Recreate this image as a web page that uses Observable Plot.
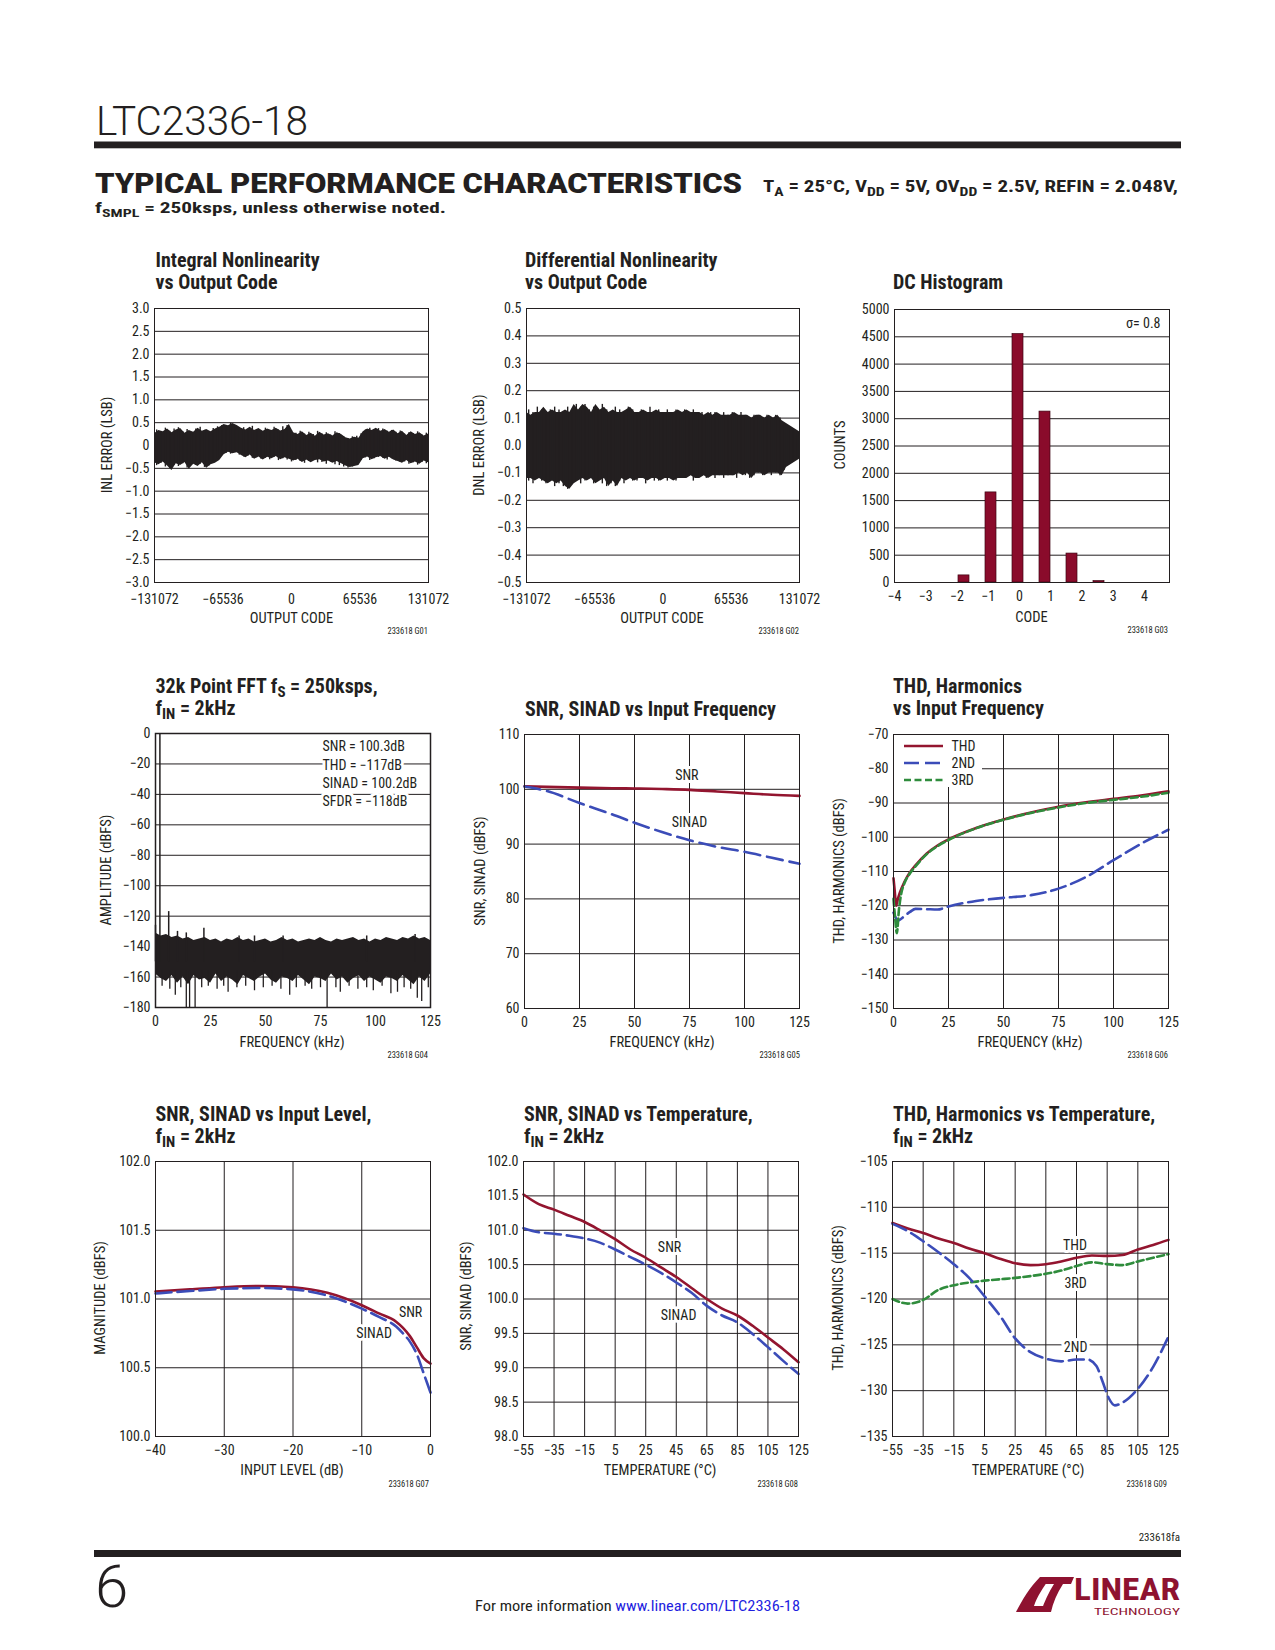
<!DOCTYPE html>
<html>
<head>
<meta charset="utf-8">
<script src="https://cdn.jsdelivr.net/npm/d3@7"></script>
<script src="https://cdn.jsdelivr.net/npm/@observablehq/plot@0.6"></script>
<style>
  html,body{margin:0;padding:0;background:#fff;}
  #page{position:relative;width:1275px;height:1650px;overflow:hidden;background:#fff;}
</style>
</head>
<body>
<div id="page"></div>
<script>
// ===================== DATA =====================
// G01 / G02 : INL & DNL vs output code (envelope of the dense trace + its spikes)
const codeTicks = [-131072, -65536, 0, 65536, 131072];
const inlTicks = [-3, -2.5, -2, -1.5, -1, -0.5, 0, 0.5, 1, 1.5, 2, 2.5, 3];
const inlHi = [0.26,0.33,0.30,0.36,0.28,0.34,0.37,0.27,0.33,0.29,0.38,0.31,0.35,0.30,0.36,0.40,
  0.46,0.43,0.48,0.44,
  0.38,0.34,0.40,0.33,0.37,0.31,0.36,0.33,0.38,0.32,0.35,
  0.46,
  0.28,0.24,0.30,0.22,0.27,0.20,0.29,0.23,0.26,0.21,0.28,0.24,
  0.17,0.14,0.18,0.16,
  0.30,0.36,0.33,0.38,0.31,0.35,0.29,0.34,
  0.26,0.31,0.22,0.30,0.24,0.28,0.21,0.25];
const inlLo = [-0.38,-0.42,-0.36,-0.45,-0.55,-0.40,-0.44,-0.37,-0.52,-0.41,-0.46,-0.38,-0.50,-0.42,-0.39,-0.33,
  -0.20,-0.15,-0.18,-0.16,
  -0.22,-0.27,-0.21,-0.30,-0.25,-0.32,-0.26,-0.29,-0.24,-0.31,-0.27,
  -0.30,
  -0.34,-0.30,-0.37,-0.32,-0.38,-0.33,-0.31,-0.36,-0.34,-0.39,-0.35,-0.40,
  -0.45,-0.48,-0.46,-0.44,
  -0.29,-0.25,-0.31,-0.27,-0.24,-0.30,-0.26,-0.32,
  -0.35,-0.39,-0.33,-0.40,-0.36,-0.41,-0.34,-0.38];
const inlSpikeUp = [0.34,0.29,0.38,0.31,0.36,0.39,0.30,0.35,0.27,0.36,0.40,0.33,0.28,0.37,0.41,0.44,
  0.40,0.49,0.42,0.36,
  0.39,0.32,0.42,0.35,0.30,0.38,0.31,0.40,0.34,0.41,0.44,
  0.32,0.27,0.31,0.25,0.29,0.24,0.31,0.25,0.28,0.23,0.30,0.26,0.19,
  0.15,0.19,0.20,0.26,
  0.34,0.38,0.35,0.37,0.36,0.31,0.33,0.29,
  0.32,0.25,0.28,0.26,0.30,0.23,0.27];
const inlSpikeDown = [-0.44,-0.39,-0.47,-0.50,-0.43,-0.46,-0.40,-0.49,-0.44,-0.43,-0.41,-0.48,-0.45,-0.36,-0.30,-0.22,
  -0.17,-0.19,-0.14,-0.21,
  -0.25,-0.23,-0.28,-0.27,-0.30,-0.28,-0.31,-0.26,-0.33,-0.29,-0.32,
  -0.36,-0.33,-0.35,-0.39,-0.35,-0.32,-0.38,-0.37,-0.41,-0.36,-0.42,-0.44,-0.47,
  -0.49,-0.47,-0.42,-0.33,
  -0.27,-0.33,-0.29,-0.26,-0.28,-0.32,-0.29,-0.34,
  -0.37,-0.36,-0.41,-0.38,-0.43,-0.37,-0.40];
const dnlTicks = [-0.5, -0.4, -0.3, -0.2, -0.1, 0, 0.1, 0.2, 0.3, 0.4, 0.5];
const dnlHi = [0.12,0.11,0.12,0.12,0.14,0.12,0.13,0.12,0.12,0.13,0.12,0.15,0.13,0.15,0.14,0.12,
  0.15,0.13,0.14,0.12,0.13,0.12,0.12,0.13,0.14,0.12,0.12,0.13,0.12,0.12,0.13,0.12,
  0.12,0.12,0.12,0.13,0.12,0.13,0.12,0.12,0.12,0.11,0.12,0.11,0.12,0.11,0.11,0.11,
  0.12,0.11,0.11,0.11,0.10,0.11,0.11,0.10,0.11,0.10,0.11,0.09,0.08,0.07,0.06,0.05];
const dnlLo = [-0.12,-0.12,-0.13,-0.12,-0.13,-0.14,-0.13,-0.14,-0.13,-0.15,-0.16,-0.14,-0.13,-0.12,-0.13,-0.12,
  -0.14,-0.13,-0.12,-0.15,-0.13,-0.15,-0.12,-0.13,-0.12,-0.13,-0.12,-0.12,-0.13,-0.12,-0.12,-0.13,
  -0.12,-0.12,-0.13,-0.12,-0.12,-0.12,-0.11,-0.12,-0.12,-0.11,-0.12,-0.11,-0.11,-0.11,-0.11,-0.11,
  -0.11,-0.10,-0.11,-0.10,-0.12,-0.10,-0.10,-0.11,-0.10,-0.10,-0.10,-0.11,-0.08,-0.07,-0.06,-0.05];
const dnlSpikeUp = [0.13,0.12,0.14,0.13,0.12,0.13,0.14,0.13,0.12,0.14,
  0.13,0.15,0.14,0.15,0.13,0.14,0.13,0.15,0.13,0.12,
  0.14,0.13,0.12,0.14,0.13,0.12,0.13,0.12,0.14,0.12,
  0.13,0.12,0.13,0.12,0.13,0.12,0.13,0.12,0.13,0.12,
  0.12,0.11,0.12,0.12,0.11,0.12,0.11,0.12,0.11,0.12,
  0.11,0.10,0.11,0.11,0.10,0.11,0.10,0.11,0.10,0.08,
  0.07,0.06,0.05];
const dnlSpikeDown = [-0.13,-0.14,-0.12,-0.13,-0.14,-0.13,-0.15,-0.14,-0.15,-0.16,
  -0.14,-0.13,-0.14,-0.13,-0.12,-0.14,-0.13,-0.14,-0.15,-0.14,
  -0.15,-0.13,-0.14,-0.12,-0.13,-0.13,-0.12,-0.14,-0.12,-0.13,
  -0.13,-0.12,-0.13,-0.12,-0.13,-0.12,-0.12,-0.11,-0.13,-0.12,
  -0.11,-0.12,-0.11,-0.12,-0.11,-0.12,-0.11,-0.11,-0.12,-0.10,
  -0.11,-0.12,-0.11,-0.10,-0.11,-0.10,-0.11,-0.10,-0.11,-0.09,
  -0.07,-0.06,-0.05];

// G03 : DC histogram
const histCodes = [-4, -3, -2, -1, 0, 1, 2, 3, 4, 5];
const histCounts = [0, 0, 130, 1650, 4550, 3130, 530, 25, 0, 0];
const histTicks = [-4, -3, -2, -1, 0, 1, 2, 3, 4];
const countTicks = [0, 500, 1000, 1500, 2000, 2500, 3000, 3500, 4000, 4500, 5000];

// G04 : 32k point FFT (noise-floor envelope every 2.5kHz, plus tones / dips)
const fftTicks = [-180, -160, -140, -120, -100, -80, -60, -40, -20, 0];
const freqTicks = [0, 25, 50, 75, 100, 125];
const fftHi = [-131,-133,-132,-134,-133,-135,-134,-136,-135,-134,-136,-135,-137,-135,-136,-134,-136,
  -135,-137,-136,-135,-137,-136,-134,-136,-135,-137,-136,-135,-136,-134,-136,-137,-135,
  -136,-135,-134,-136,-135,-137,-135,-136,-134,-135,-136,-134,-135,-133,-135,-134,-136];
const fftLo = [-158,-161,-163,-159,-164,-160,-165,-159,-162,-161,
  -164,-158,-163,-160,-162,-165,-159,-161,-163,-160,
  -158,-162,-164,-160,-161,-163,-159,-162,-165,-160,
  -161,-163,-158,-162,-160,-164,-161,-159,-163,-160,
  -162,-164,-160,-161,-163,-159,-162,-165,-160,-163,-158];
const fftPeakFreq = [0, 2, 6, 10, 14, 22, 38, 45, 58, 96, 118];
const fftPeakLevel = [-126, 0, -117, -130, -131, -128, -133, -133, -133, -133, -132];
const fftDipFreq = [3, 6.5, 9, 11.5, 14, 15.5, 18, 21, 24, 28, 31, 33, 37, 41, 45, 49, 53, 57, 61, 64,
  68, 71, 75, 78, 82, 84, 88, 92, 96, 99, 103, 107, 110, 113, 116, 119, 121, 124];
const fftDipLevel = [-166, -168, -172, -167, -180, -180, -180, -167, -166, -168, -166, -170, -167, -166, -169, -167, -166, -168, -172, -167,
  -166, -168, -167, -180, -167, -170, -166, -168, -167, -169, -166, -171, -170, -167, -168, -174, -176, -167];
const fftStats = ["SNR = 100.3dB", "THD = \u2212117dB", "SINAD = 100.2dB", "SFDR = \u2212118dB"];

// G05 : SNR, SINAD vs input frequency
const snrFreqTicks = [60, 70, 80, 90, 100, 110];
const inFreq = [0, 10, 25, 40, 50, 62.5, 75, 87.5, 100, 112.5, 125];
const snrVsFreq = [100.55, 100.45, 100.3, 100.2, 100.15, 100.05, 99.9, 99.6, 99.3, 99.0, 98.8];
const sinadVsFreq = [100.5, 99.7, 97.5, 95.4, 93.9, 92.2, 90.7, 89.5, 88.6, 87.5, 86.4];

// G06 : THD, harmonics vs input frequency
const harmTicks = [-150, -140, -130, -120, -110, -100, -90, -80, -70];
const thdFreq = [0, 0.6, 1.2, 2, 3, 5, 7.5, 10, 15, 20, 25, 37.5, 50, 62.5, 75, 87.5, 100, 112.5, 125];
const thdVsFreq = [-112, -116, -120, -118, -116, -113, -110.2, -108.2, -104.8, -102.4, -100.6, -97.3, -94.8, -92.8, -91.1, -89.8, -88.8, -87.8, -86.6];
const h2Freq = [0, 1, 2, 3.5, 5, 7.5, 10, 15, 20, 25, 37.5, 50, 62.5, 75, 87.5, 100, 112.5, 125];
const h2VsFreq = [-122, -123.5, -124.3, -123.8, -123, -121.8, -120.9, -121.0, -121.1, -120.2, -118.6, -117.7, -116.9, -115.0, -111.6, -106.7, -101.9, -97.8];
const h3Freq = [0, 0.8, 1.5, 2.5, 3.5, 5, 7.5, 10, 15, 20, 25, 37.5, 50, 62.5, 75, 87.5, 100, 112.5, 125];
const h3VsFreq = [-118, -124, -128, -121, -116.5, -113.4, -110.5, -108.5, -105, -102.6, -100.8, -97.4, -94.9, -92.9, -91.3, -90.0, -89.1, -88.2, -87.0];

// G07 : SNR, SINAD vs input level
const levelTicks = [-40, -30, -20, -10, 0];
const magTicks = [100, 100.5, 101, 101.5, 102];
const inLevel = [-40, -35, -30, -25, -20, -15, -10, -7.5, -5, -4, -3, -2, -1, 0];
const snrVsLevel = [101.055, 101.07, 101.086, 101.095, 101.085, 101.045, 100.955, 100.895, 100.835, 100.79, 100.73, 100.65, 100.57, 100.53];
const sinadVsLevel = [101.04, 101.058, 101.074, 101.08, 101.07, 101.025, 100.93, 100.87, 100.80, 100.75, 100.69, 100.60, 100.46, 100.32];

// G08 : SNR, SINAD vs temperature
const tempTicks = [-55, -35, -15, 5, 25, 45, 65, 85, 105, 125];
const snrTempTicks = [98, 98.5, 99, 99.5, 100, 100.5, 101, 101.5, 102];
const temps = [-55, -45, -35, -25, -15, -5, 5, 15, 25, 35, 45, 55, 65, 75, 85, 95, 105, 115, 125];
const snrVsTemp = [101.52, 101.38, 101.30, 101.21, 101.12, 101.0, 100.87, 100.72, 100.6, 100.46, 100.32, 100.16, 100.0, 99.86, 99.76, 99.61, 99.44, 99.27, 99.08];
const sinadVsTemp = [101.03, 100.97, 100.95, 100.92, 100.88, 100.82, 100.72, 100.61, 100.5, 100.38, 100.24, 100.09, 99.9, 99.76, 99.66, 99.49, 99.3, 99.1, 98.91];

// G09 : THD, harmonics vs temperature
const harmTempTicks = [-135, -130, -125, -120, -115, -110, -105];
const thdVsTemp = [-111.7, -112.3, -112.8, -113.4, -113.9, -114.5, -115.0, -115.6, -116.1, -116.3, -116.2, -115.9, -115.5, -115.25, -115.3, -115.2, -114.6, -114.1, -113.55];
const h3VsTemp = [-120.0, -120.5, -120.1, -119.0, -118.5, -118.2, -118.0, -117.85, -117.7, -117.5, -117.25, -116.9, -116.4, -116.0, -116.2, -116.3, -115.9, -115.5, -115.1];
const h2Temps = [-55, -45, -35, -25, -15, -5, 5, 15, 25, 35, 45, 55, 65, 72, 78, 82, 86, 90, 95, 105, 115, 125];
const h2VsTemp = [-111.8, -112.6, -113.7, -114.9, -116.2, -117.7, -119.7, -121.8, -124.3, -125.8, -126.5, -126.8, -126.6, -126.6, -127.3, -129.0, -130.8, -131.6, -131.3, -129.8, -127.4, -124.1];

// ===================== STYLE / LAYOUT =====================
const INK = "#231f20", RED = "#93152f", BLUE = "#3b4cb8", GREEN = "#2f8c3c", BAR = "#8a0b2b";
const FONT = '"Liberation Sans Narrow","Arial Narrow","Roboto Condensed",Roboto,"Liberation Sans",sans-serif';
const TICK = 14;
const fmtInt = d3.format("d"), fmt1 = d3.format(".1f");
const page = document.getElementById("page");
const M = {l: 62, r: 16, t: 10, b: 36};

function chart(frame, opts, marks) {
  const [fl, ft, fr, fb] = frame;
  const axes = [];
  if (opts.x.axis !== null) axes.push(Plot.axisX(opts.x.ticks, {tickSize: 0, tickPadding: opts.xPad ?? 9, tickFormat: opts.x.tickFormat, fontSize: TICK, label: null}));
  if (opts.y.axis !== null) axes.push(Plot.axisY(opts.y.ticks, {tickSize: 0, tickPadding: 5, tickFormat: opts.y.tickFormat, fontSize: TICK, label: null}));
  const svg = Plot.plot({
    width: fr - fl + M.l + M.r, height: fb - ft + M.t + M.b,
    marginLeft: M.l, marginRight: M.r, marginTop: M.t, marginBottom: M.b,
    style: {fontFamily: FONT, fontSize: TICK + "px", color: INK, background: "transparent", overflow: "visible"},
    x: opts.x, y: opts.y,
    marks: [...marks, ...axes]
  });
  svg.style.position = "absolute";
  svg.style.left = (fl - M.l) + "px";
  svg.style.top = (ft - M.t) + "px";
  page.appendChild(svg);
  return svg;
}
const grid = (ticks, dim) => dim === "x" ? Plot.ruleX(ticks, {stroke: INK, strokeWidth: 1}) : Plot.ruleY(ticks, {stroke: INK, strokeWidth: 1});
const rows = (xs, ys) => xs.map((x, i) => ({x, y: ys[i]}));
const labelMark = (data) => Plot.text(data, {x: "x", y: "y", text: "t", fontSize: 14, fill: INK, stroke: "white", strokeWidth: 6, paintOrder: "stroke"});

const F1 = [154, 308, 428, 582], F2 = [526, 308, 799, 582], F3 = [894, 309, 1169, 582];
const F4 = [155, 733, 430, 1007], F5 = [524, 734, 799, 1008], F6 = [893, 734, 1168, 1008];
const F7 = [155, 1161, 430, 1436], F8 = [523, 1161, 798, 1436], F9 = [892, 1161, 1168, 1436];

// dense trace helper: envelope area on a code grid + spikes half-way between grid points
function traceMarks(hi, lo, up, down, w) {
  const n = hi.length, step = 262144 / (n - 1);
  const env = d3.range(n).map(i => ({c: -131072 + i * step, hi: hi[i], lo: lo[i]}));
  const spk = d3.range(up.length).map(i => ({c: -131072 + (i + 0.5) * step, up: up[i], down: down[i]}));
  return [
    Plot.areaY(env, {x: "c", y1: "lo", y2: "hi", fill: INK}),
    Plot.ruleX(spk, {x: "c", y1: "down", y2: "up", stroke: INK, strokeWidth: w})
  ];
}

// ---- G01 INL
chart(F1, {xPad: 12, x: {domain: [-131072, 131072], ticks: codeTicks, tickFormat: fmtInt},
           y: {domain: [-3, 3], ticks: inlTicks, tickFormat: d => d === 0 ? "0" : fmt1(d)}}, [
  grid(inlTicks, "y"),
  ...traceMarks(inlHi, inlLo, inlSpikeUp, inlSpikeDown, 1.4),
  Plot.frame({stroke: INK})
]);

// ---- G02 DNL
chart(F2, {xPad: 12, x: {domain: [-131072, 131072], ticks: codeTicks, tickFormat: fmtInt},
           y: {domain: [-0.5, 0.5], ticks: dnlTicks, tickFormat: fmt1}}, [
  grid(dnlTicks, "y"),
  ...traceMarks(dnlHi, dnlLo, dnlSpikeUp, dnlSpikeDown, 1.4),
  Plot.frame({stroke: INK})
]);

// ---- G03 histogram (axes layer + bar layer on a band scale of the codes)
chart(F3, {x: {domain: [-4, 4.8], ticks: histTicks, tickFormat: fmtInt},
           y: {domain: [0, 5000], ticks: countTicks, tickFormat: fmtInt}}, [
  grid(countTicks, "y"),
  Plot.text(["\u03c3= 0.8"], {frameAnchor: "top-right", dx: -9, dy: 14, textAnchor: "end", lineAnchor: "middle", fontSize: 14, fill: INK}),
  Plot.frame({stroke: INK})
]);
const histRows = histCodes.map((c, i) => ({c, n: histCounts[i]})).filter(d => d.n > 0);
chart(F3, {x: {type: "band", domain: histCodes, paddingInner: 0.59, paddingOuter: 0.295, axis: null},
           y: {domain: [0, 5000], axis: null}}, [
  Plot.barY(histRows, {x: "c", y: "n", fill: BAR, stroke: "#3d0412", strokeWidth: 0.7}),
  Plot.ruleY([0], {stroke: INK})
]);

// ---- G04 FFT
const fftGrid = d3.range(fftHi.length).map(i => i * 125 / (fftHi.length - 1));
const fftRows = fftGrid.map((f, i) => ({f, hi: fftHi[i], lo: fftLo[i]}));
const dipRows = fftDipFreq.map((f, i) => ({f, v: fftDipLevel[i]}));
const peakRows = fftPeakFreq.map((f, i) => ({f, v: fftPeakLevel[i]}));
chart(F4, {x: {domain: [0, 125], ticks: freqTicks, tickFormat: fmtInt},
           y: {domain: [-180, 0], ticks: fftTicks, tickFormat: fmtInt}}, [
  grid(fftTicks, "y"),
  Plot.text([fftStats.join("\n")], {frameAnchor: "top-left", dx: 167, dy: 5, textAnchor: "start", lineAnchor: "top",
    lineHeight: 1.3, fontSize: 14, fill: INK, stroke: "white", strokeWidth: 6, paintOrder: "stroke"}),
  Plot.areaY(fftRows, {x: "f", y1: "lo", y2: "hi", fill: INK}),
  Plot.ruleX(dipRows, {x: "f", y1: -156, y2: "v", stroke: INK, strokeWidth: 1.3}),
  Plot.ruleX(peakRows, {x: "f", y1: -150, y2: "v", stroke: INK, strokeWidth: 1.5}),
  Plot.frame({stroke: INK, strokeWidth: 1.5})
]);

// ---- G05 SNR/SINAD vs frequency
chart(F5, {x: {domain: [0, 125], ticks: freqTicks, tickFormat: fmtInt},
           y: {domain: [60, 110], ticks: snrFreqTicks, tickFormat: fmtInt}}, [
  grid(freqTicks, "x"), grid(snrFreqTicks, "y"),
  labelMark([{x: 73.8, y: 102.5, t: "SNR"}, {x: 75, y: 94.0, t: "SINAD"}]),
  Plot.line(rows(inFreq, snrVsFreq), {x: "x", y: "y", stroke: RED, strokeWidth: 2.6, curve: "monotone-x"}),
  Plot.line(rows(inFreq, sinadVsFreq), {x: "x", y: "y", stroke: BLUE, strokeWidth: 2.6, strokeDasharray: "16,7", curve: "monotone-x"}),
  Plot.frame({stroke: INK})
]);

// ---- G06 THD, harmonics vs frequency
chart(F6, {x: {domain: [0, 125], ticks: freqTicks, tickFormat: fmtInt},
           y: {domain: [-150, -70], ticks: harmTicks, tickFormat: fmtInt}}, [
  grid(freqTicks, "x"), grid(harmTicks, "y"),
  Plot.line(rows(thdFreq, thdVsFreq), {x: "x", y: "y", stroke: RED, strokeWidth: 2.6, curve: "monotone-x"}),
  Plot.line(rows(h2Freq, h2VsFreq), {x: "x", y: "y", stroke: BLUE, strokeWidth: 2.6, strokeDasharray: "15,6", curve: "monotone-x"}),
  Plot.line(rows(h3Freq, h3VsFreq), {x: "x", y: "y", stroke: GREEN, strokeWidth: 2.6, strokeDasharray: "7,3.5", curve: "monotone-x"}),
  Plot.frame({stroke: INK})
]);

// ---- G07 SNR/SINAD vs input level
chart(F7, {x: {domain: [-40, 0], ticks: levelTicks, tickFormat: fmtInt},
           y: {domain: [100, 102], ticks: magTicks, tickFormat: fmt1}}, [
  grid(levelTicks, "x"), grid(magTicks, "y"),
  labelMark([{x: -2.9, y: 100.904, t: "SNR"}, {x: -8.2, y: 100.747, t: "SINAD"}]),
  Plot.line(rows(inLevel, snrVsLevel), {x: "x", y: "y", stroke: RED, strokeWidth: 2.6, curve: "monotone-x"}),
  Plot.line(rows(inLevel, sinadVsLevel), {x: "x", y: "y", stroke: BLUE, strokeWidth: 2.6, strokeDasharray: "16,6", curve: "monotone-x"}),
  Plot.frame({stroke: INK})
]);

// ---- G08 SNR/SINAD vs temperature
chart(F8, {x: {domain: [-55, 125], ticks: tempTicks, tickFormat: fmtInt},
           y: {domain: [98, 102], ticks: snrTempTicks, tickFormat: fmt1}}, [
  grid(tempTicks, "x"), grid(snrTempTicks, "y"),
  labelMark([{x: 40.6, y: 100.75, t: "SNR"}, {x: 46.5, y: 99.76, t: "SINAD"}]),
  Plot.line(rows(temps, snrVsTemp), {x: "x", y: "y", stroke: RED, strokeWidth: 2.6, curve: "monotone-x"}),
  Plot.line(rows(temps, sinadVsTemp), {x: "x", y: "y", stroke: BLUE, strokeWidth: 2.6, strokeDasharray: "16,6", curve: "monotone-x"}),
  Plot.frame({stroke: INK})
]);

// ---- G09 THD, harmonics vs temperature
chart(F9, {x: {domain: [-55, 125], ticks: tempTicks, tickFormat: fmtInt},
           y: {domain: [-135, -105], ticks: harmTempTicks, tickFormat: fmtInt}}, [
  grid(tempTicks, "x"), grid(harmTempTicks, "y"),
  labelMark([{x: 64, y: -114.16, t: "THD"}, {x: 64.4, y: -118.35, t: "3RD"}, {x: 64.4, y: -125.25, t: "2ND"}]),
  Plot.line(rows(temps, thdVsTemp), {x: "x", y: "y", stroke: RED, strokeWidth: 2.6, curve: "monotone-x"}),
  Plot.line(rows(temps, h3VsTemp), {x: "x", y: "y", stroke: GREEN, strokeWidth: 2.6, strokeDasharray: "7,3.5", curve: "monotone-x"}),
  Plot.line(rows(h2Temps, h2VsTemp), {x: "x", y: "y", stroke: BLUE, strokeWidth: 2.6, strokeDasharray: "15,6", curve: "monotone-x"}),
  Plot.frame({stroke: INK})
]);

// ===================== PAGE TEXT OVERLAY =====================
const ov = d3.select(page).append("svg")
  .attr("width", 1275).attr("height", 1650)
  .style("position", "absolute").style("left", "0px").style("top", "0px").style("pointer-events", "none")
  .attr("font-family", FONT).attr("fill", INK);

function rich(x, y, parts, attrs = {}) {
  const t = ov.append("text").attr("x", x).attr("y", y);
  for (const [k, v] of Object.entries(attrs)) t.attr(k, v);
  let shift = 0;
  for (const p of parts) {
    if (Array.isArray(p)) {
      const s = p[1] ?? 4;
      t.append("tspan").attr("dy", s - shift).attr("font-size", "0.75em").text(p[0]);
      shift = s;
    } else {
      const ts = t.append("tspan").text(p);
      if (shift) { ts.attr("dy", -shift); shift = 0; }
    }
  }
  return t;
}
const TITLE = {"font-weight": "bold", "font-size": 20};
function title(x, y1, l1, l2) {
  rich(x, y1, l1, TITLE);
  if (l2) rich(x, y1 + 22, l2, TITLE);
}
// header
rich(96, 135, ["LTC2336-18"], {"font-family": "Roboto, 'Liberation Sans', sans-serif", "font-weight": 300, "font-size": 40, textLength: 212, lengthAdjust: "spacingAndGlyphs"});
ov.append("rect").attr("x", 94).attr("y", 141.5).attr("width", 1087).attr("height", 6.8).attr("fill", INK);
rich(95, 193, ["TYPICAL PERFORMANCE CHARACTERISTICS"], {"font-family": "Roboto, 'DejaVu Sans', sans-serif", "font-weight": 900, "font-size": 27, textLength: 647, lengthAdjust: "spacingAndGlyphs"});
rich(763, 192, ["T", ["A"], " = 25\u00b0C, V", ["DD"], " = 5V, OV", ["DD"], " = 2.5V, REFIN = 2.048V,"], {"font-weight": "bold", "font-size": 17, textLength: 415, lengthAdjust: "spacingAndGlyphs"});
rich(95, 213, ["f", ["SMPL"], " = 250ksps, unless otherwise noted."], {"font-weight": "bold", "font-size": 15.5, textLength: 351, lengthAdjust: "spacingAndGlyphs"});

// titles
title(155.5, 267, ["Integral Nonlinearity"], ["vs Output Code"]);
title(525, 267, ["Differential Nonlinearity"], ["vs Output Code"]);
title(893, 289, ["DC Histogram"]);
title(155.5, 693, ["32k Point FFT f", ["S"], " = 250ksps,"], ["f", ["IN"], " = 2kHz"]);
title(525, 716, ["SNR, SINAD vs Input Frequency"]);
title(893, 693, ["THD, Harmonics"], ["vs Input Frequency"]);
title(155.5, 1121, ["SNR, SINAD vs Input Level,"], ["f", ["IN"], " = 2kHz"]);
title(524, 1121, ["SNR, SINAD vs Temperature,"], ["f", ["IN"], " = 2kHz"]);
title(893, 1121, ["THD, Harmonics vs Temperature,"], ["f", ["IN"], " = 2kHz"]);

// axis labels
function ylab(x, y, s) {
  ov.append("text").attr("transform", `translate(${x},${y}) rotate(-90)`).attr("text-anchor", "middle")
    .attr("dominant-baseline", "central").attr("font-size", 14.5).text(s);
}
function xlab(x, y, s) {
  ov.append("text").attr("x", x).attr("y", y).attr("text-anchor", "middle").attr("dominant-baseline", "central")
    .attr("font-size", 14.5).text(s);
}
function code(xr, y, s) {
  ov.append("text").attr("x", xr).attr("y", y).attr("text-anchor", "end").attr("font-size", 8.5).text(s);
}
ylab(107, 445, "INL ERROR (LSB)"); xlab(291.5, 618, "OUTPUT CODE"); code(428, 634, "233618 G01");
ylab(479, 445, "DNL ERROR (LSB)"); xlab(662, 618, "OUTPUT CODE"); code(799, 634, "233618 G02");
ylab(840, 445, "COUNTS"); xlab(1031.5, 617, "CODE"); code(1168, 633, "233618 G03");
ylab(106, 870, "AMPLITUDE (dBFS)"); xlab(292, 1042, "FREQUENCY (kHz)"); code(428, 1058, "233618 G04");
ylab(480, 871, "SNR, SINAD (dBFS)"); xlab(662, 1042, "FREQUENCY (kHz)"); code(800, 1058, "233618 G05");
ylab(839, 871, "THD, HARMONICS (dBFS)"); xlab(1030, 1042, "FREQUENCY (kHz)"); code(1168, 1058, "233618 G06");
ylab(100, 1298, "MAGNITUDE (dBFS)"); xlab(292, 1470, "INPUT LEVEL (dB)"); code(429, 1487, "233618 G07");
ylab(466, 1296, "SNR, SINAD (dBFS)"); xlab(660, 1470, "TEMPERATURE (\u00b0C)"); code(798, 1487, "233618 G08");
ylab(838, 1298, "THD, HARMONICS (dBFS)"); xlab(1028, 1470, "TEMPERATURE (\u00b0C)"); code(1167, 1487, "233618 G09");

// legend of G06 (sits in a white box over the grid)
const lg = ov.append("g");
lg.append("rect").attr("x", 894).attr("y", 735).attr("width", 88).attr("height", 52).attr("fill", "white");
[["THD", RED, null, 746], ["2ND", BLUE, "15,6", 763], ["3RD", GREEN, "7,3.5", 780]].forEach(([s, c, dash, y]) => {
  const l = lg.append("line").attr("x1", 904).attr("x2", 943).attr("y1", y).attr("y2", y).attr("stroke", c).attr("stroke-width", 2.6);
  if (dash) l.attr("stroke-dasharray", dash);
  lg.append("text").attr("x", 951.5).attr("y", y).attr("dominant-baseline", "central").attr("font-size", 14).text(s);
});

// footer
rich(1180, 1541, ["233618fa"], {"font-size": 11, "text-anchor": "end"});
ov.append("rect").attr("x", 94).attr("y", 1550).attr("width", 1087).attr("height", 7).attr("fill", INK);
rich(95, 1607, ["6"], {"font-family": "Roboto, 'Liberation Sans', sans-serif", "font-weight": 300, "font-size": 60});
const foot = ov.append("text").attr("x", 475).attr("y", 1611).attr("font-size", 15.5).attr("textLength", 325).attr("lengthAdjust", "spacingAndGlyphs");
foot.append("tspan").text("For more information ");
foot.append("tspan").attr("fill", "#1f1fe0").text("www.linear.com/LTC2336-18");
// Linear Technology logo
const LOGO = "#8e1230";
ov.append("path").attr("fill", LOGO).attr("d", "M1016,1612 C1022,1600 1030,1587 1040,1577 L1051,1577 C1043,1587 1037,1597 1034,1606 L1046,1606 L1043,1612 Z");
ov.append("path").attr("fill", LOGO).attr("d", "M1047,1577 L1074,1577 L1071,1584 L1063,1584 C1057,1593 1053,1603 1051,1612 L1041,1612 C1044,1602 1049,1592 1054,1584 L1044,1584 Z");
rich(1074, 1600, ["LINEAR"], {"font-weight": "bold", "font-size": 31, fill: LOGO, textLength: 106, lengthAdjust: "spacingAndGlyphs"});
rich(1094, 1615, ["TECHNOLOGY"], {"font-size": 8.5, fill: LOGO, textLength: 86, lengthAdjust: "spacingAndGlyphs"});
</script>
</body>
</html>
